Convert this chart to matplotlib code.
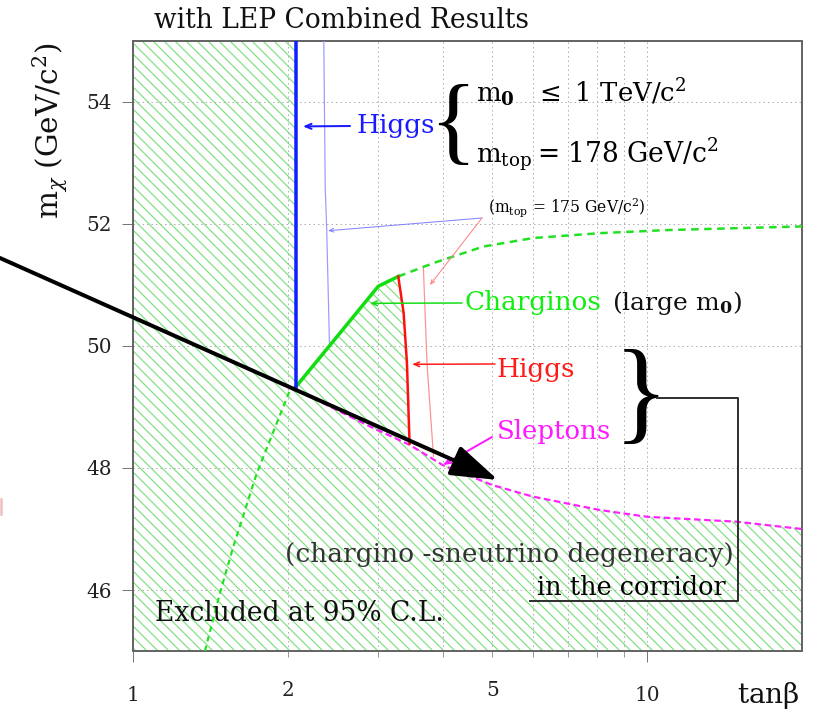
import matplotlib
matplotlib.use("Agg")
import matplotlib.pyplot as plt
from matplotlib.patches import Polygon, FancyArrowPatch
from matplotlib.lines import Line2D
from matplotlib.collections import LineCollection
from matplotlib.ticker import FixedLocator, FuncFormatter
from matplotlib.transforms import Affine2D

# ---------------- data (tanβ, m_χ in GeV/c²) ----------------
higgs178_tb = [2.073, 2.073]
higgs178_m = [55.0, 49.33]

higgs175_tb = [2.35, 2.365, 2.381, 2.41]
higgs175_m = [55.0, 52.6, 51.9, 50.05]

chargino_solid_tb = [2.073, 3.0, 3.28]
chargino_solid_m = [49.33, 50.98, 51.14]

chargino_high_tb = [3.28, 3.84, 4.80, 6.0, 8.1, 10.9, 14.7, 20.0]
chargino_high_m = [51.14, 51.36, 51.63, 51.77, 51.85, 51.90, 51.93, 51.96]

chargino_low_tb = [1.38, 1.476, 1.567, 1.74, 2.02, 2.073]
chargino_low_m = [45.0, 45.95, 46.71, 47.91, 49.28, 49.33]

higgs_red_tb = [3.28, 3.36, 3.41, 3.45]
higgs_red_m = [51.14, 50.54, 49.72, 48.40]

higgs_red175_tb = [3.67, 3.73, 3.84]
higgs_red175_m = [51.30, 49.72, 48.19]

slepton_tb = [2.15, 2.89, 3.45, 4.0, 5.0, 6.0, 8.1, 10.0, 14.9, 20.0]
slepton_m = [49.22, 48.68, 48.38, 48.05, 47.72, 47.53, 47.31, 47.20, 47.12, 47.0]

x_ticklabels = {1: "1", 2: "2", 5: "5", 10: "10"}
y_ticks = [46, 48, 50, 52, 54]

# ---------------- figure setup ----------------
W, H, DPI = 814, 713, 66
SERIF = ["DejaVu Serif", "Liberation Serif"]
plt.rcParams["font.family"] = SERIF
plt.rcParams["mathtext.fontset"] = "custom"
plt.rcParams["mathtext.rm"] = "DejaVu Serif"
plt.rcParams["mathtext.it"] = "DejaVu Serif:italic"
plt.rcParams["mathtext.bf"] = "DejaVu Serif:bold"
HATCH_GREEN = "#7fe07f"
HATCH_STEP = 11  # horizontal spacing of the hatch lines, pixels


def fs(px):
    """font size in points for a given em size in pixels"""
    return px * 72.0 / DPI


def lw(px):
    return px * 72.0 / DPI


fig = plt.figure(figsize=(W / DPI, H / DPI), dpi=DPI)
# pixel (top-left origin) -> figure fraction
PX = Affine2D().scale(1.0 / W, -1.0 / H).translate(0, 1) + fig.transFigure

ax_l, ax_r, ax_t, ax_b = 133, 802, 41, 651
ax = fig.add_axes([ax_l / W, 1 - ax_b / H, (ax_r - ax_l) / W, (ax_b - ax_t) / H])
ax.set_xscale("log")
ax.set_xlim(1, 20)
ax.set_ylim(45, 55)

# ticks
ax.xaxis.set_major_locator(FixedLocator([1, 10]))
ax.xaxis.set_minor_locator(FixedLocator([2, 3, 4, 5, 6, 7, 8, 9]))
fmt = FuncFormatter(lambda v, p: x_ticklabels.get(int(round(v)), ""))
ax.xaxis.set_major_formatter(fmt)
ax.xaxis.set_minor_formatter(fmt)
ax.set_yticks(y_ticks)
ax.set_yticklabels([str(v) for v in y_ticks])
ax.tick_params(axis="both", which="major", direction="out", length=lw(11),
               width=lw(1), color="#777777", labelsize=fs(20), labelcolor="#222222")
ax.tick_params(axis="x", which="minor", direction="out", length=lw(6),
               width=lw(1), color="#999999", labelsize=fs(20), labelcolor="#222222")
ax.tick_params(axis="x", which="both", pad=26)
ax.tick_params(axis="y", which="major", pad=11)
for sp in ax.spines.values():
    sp.set_color("#666666")
    sp.set_linewidth(lw(2))

ax.grid(True, which="both", axis="x", ls=(0, (1.5, 3)), color="#b0b0b0", lw=lw(1))
ax.grid(True, which="major", axis="y", ls=(0, (1.5, 3)), color="#b0b0b0", lw=lw(1))

# excluded region: outline built from the limit curves, filled with diagonal hatching
bound_tb = [1.0, higgs178_tb[0], higgs178_tb[1]] + chargino_solid_tb[1:] + higgs_red_tb[1:] \
    + [t for t in slepton_tb if t > higgs_red_tb[-1]] + [20.0, 1.0]
bound_m = [55.0, 55.0, higgs178_m[1]] + chargino_solid_m[1:] + higgs_red_m[1:] \
    + [m for t, m in zip(slepton_tb, slepton_m) if t > higgs_red_tb[-1]] + [45.0, 45.0]
excluded = Polygon(list(zip(bound_tb, bound_m)), closed=True, facecolor="none",
                   edgecolor="none", zorder=1)
ax.add_patch(excluded)
hatch_segs = [[(c, 0), (c + H, H)] for c in range(-H, W + HATCH_STEP, HATCH_STEP)]
hatch = LineCollection(hatch_segs, transform=PX, colors=HATCH_GREEN,
                       linewidths=lw(1.2), zorder=1)
ax.add_collection(hatch, autolim=False)
hatch.set_clip_path(excluded)

# limit curves
ax.plot(higgs175_tb, higgs175_m, color="#9a9aff", lw=lw(1.2), zorder=3)
ax.plot(higgs_red175_tb, higgs_red175_m, color="#ff9090", lw=lw(1.2), zorder=3)
ax.plot(chargino_low_tb, chargino_low_m, color="#22e022", lw=lw(2.2),
        ls=(0, (2.5, 2.0)), zorder=3)
ax.plot(chargino_high_tb, chargino_high_m, color="#22e022", lw=lw(2.5),
        ls=(0, (3.0, 2.2)), zorder=3)
ax.plot(slepton_tb, slepton_m, color="#ff22ff", lw=lw(2.2), ls=(0, (3.0, 1.6)), zorder=3)
ax.plot(chargino_solid_tb, chargino_solid_m, color="#11dd11", lw=lw(3.5), zorder=4)
ax.plot(higgs_red_tb, higgs_red_m, color="#ff1010", lw=lw(2.5), zorder=4)
ax.plot(higgs178_tb, higgs178_m, color="#1020ff", lw=lw(3.5), zorder=4)

# ---------------- labels ----------------
def ftext(x, y, s, size, color="black", ha="left", va="baseline", **kw):
    return fig.text(x, y, s, transform=PX, fontsize=fs(size), color=color,
                    ha=ha, va=va, **kw)


ftext(342, 28, "with LEP Combined Results", 26.5, color="#111111", ha="center")
ftext(50, 131, r"$\mathrm{m}_{\chi}\ (\mathrm{GeV/c}^{2})$", 29.5, color="#111111",
      ha="center", va="center", rotation=90)
ftext(768, 703, r"tan$\mathrm{\beta}$", 28, color="#111111", ha="center")


def pointer(xy, text_px, color, lwpx=1.5, head=10):
    ax.annotate("", xy=xy, xycoords="data", xytext=text_px, textcoords=PX,
                arrowprops=dict(arrowstyle=f"->,head_length={head / 10 * 0.6},head_width={head / 10 * 0.25}",
                                color=color, lw=lw(lwpx), shrinkA=0, shrinkB=0,
                                mutation_scale=10),
                zorder=6)


BRACE = ["Liberation Serif"]

# Higgs (blue)
ftext(356, 133, "Higgs", 26.2, color="#1a1aff")
pointer((2.14, 53.6), (350, 126), "#1a1aff", 2.0, 11)
ftext(453, 152, "{", 98, color="black", ha="center", family=BRACE)
ftext(476, 102, r"$\mathrm{m}_{\mathbf{0}}$", 26)
ftext(535, 102, r"$\leq$ 1 TeV/c$^{2}$", 26)
ftext(476, 163, r"$\mathrm{m}_{\mathrm{top}}$", 26)
ftext(537, 163, r"= 178 GeV/c$^{2}$", 26.5)
ftext(488, 212, r"(m$_{\mathrm{top}}$ = 175 GeV/c$^{2}$)", 15.5)
pointer((2.395, 51.89), (482, 218), "#8080ff", 1.0, 8)
pointer((3.78, 51.0), (482, 218), "#ff8080", 1.0, 8)

# Charginos
ftext(465, 310, "Charginos", 26.2, color="#11ee11")
ftext(612, 310, r"(large m$_{\mathbf{0}}$)", 25, color="#111111")
pointer((2.89, 50.70), (462, 303), "#11dd11", 1.5, 10)

# Higgs (red)
ftext(497, 377, "Higgs", 26.2, color="#ff1a1a")
pointer((3.49, 49.70), (495, 364), "#ff1a1a", 1.5, 10)

# Sleptons
ftext(497, 439, "Sleptons", 26, color="#ff1aff")
pointer((4.01, 48.05), (492, 437), "#ff1aff", 2.0, 10)

# corridor bracket
ftext(641, 429, "}", 114, color="black", ha="center", family=BRACE)
fig.add_artist(Line2D([657, 738, 738, 530], [398, 398, 601, 601], transform=PX,
                      color="#333333", lw=lw(2), zorder=5))
ftext(285, 562, "(chargino -sneutrino degeneracy)", 26.4, color="#333333")
ftext(537, 595, "in the corridor", 25.5, color="black")
ftext(155, 621, "Excluded at 95% C.L.", 26.5, color="#111111")

# highlight arrow
fig.add_artist(FancyArrowPatch(posA=(0, 258), posB=(498, 480), transform=PX,
                               arrowstyle="-|>,head_length=4.4,head_width=1.45",
                               mutation_scale=10, color="black", lw=lw(4),
                               shrinkA=0, shrinkB=0, zorder=10))
fig.add_artist(Line2D([1, 1], [499, 514], transform=PX, color="#edc0c0", lw=lw(2.5)))

fig.savefig("out.png", dpi=DPI)
